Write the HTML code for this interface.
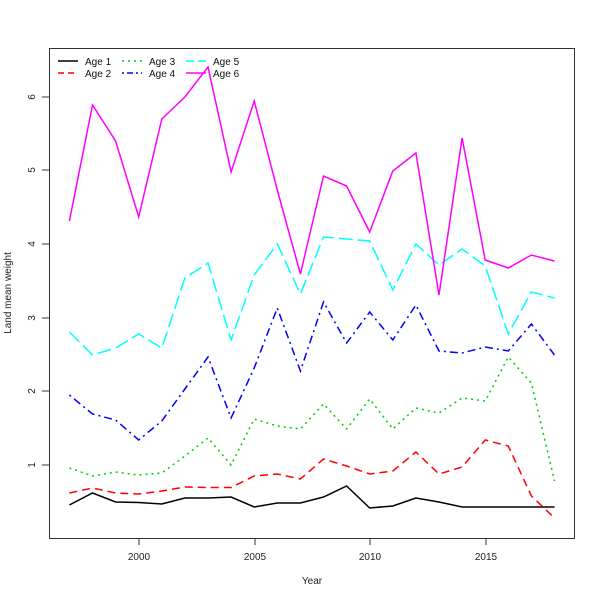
<!DOCTYPE html><html><head><style>body{margin:0;background:#fff}svg{display:block}</style></head><body>
<svg width="600" height="600" xmlns="http://www.w3.org/2000/svg" font-family="Liberation Sans, DejaVu Sans, sans-serif" font-size="10">
<rect x="0" y="0" width="600" height="600" fill="#fff"/>
<rect x="49.5" y="48.5" width="525" height="490" fill="none" stroke="#333" stroke-width="1"/>
<g stroke="#333" fill="none">
<line x1="139" y1="538" x2="139" y2="545"/><line x1="255" y1="538" x2="255" y2="545"/><line x1="370" y1="538" x2="370" y2="545"/><line x1="486" y1="538" x2="486" y2="545"/>
<line x1="42" y1="465" x2="49" y2="465"/><line x1="42" y1="391" x2="49" y2="391"/><line x1="42" y1="318" x2="49" y2="318"/><line x1="42" y1="244" x2="49" y2="244"/><line x1="42" y1="170" x2="49" y2="170"/><line x1="42" y1="97" x2="49" y2="97"/>
</g>
<g text-anchor="middle" fill="#222">
<text x="139" y="560">2000</text><text x="255" y="560">2005</text><text x="370" y="560">2010</text><text x="486" y="560">2015</text>
<text x="312" y="584">Year</text>
<text transform="translate(35,465) rotate(-90)">1</text><text transform="translate(35,391) rotate(-90)">2</text><text transform="translate(35,318) rotate(-90)">3</text><text transform="translate(35,244) rotate(-90)">4</text><text transform="translate(35,170) rotate(-90)">5</text><text transform="translate(35,97) rotate(-90)">6</text>
<text transform="translate(11,293) rotate(-90)">Land mean weight</text>
</g>
<g fill="none" stroke-width="1.5">
<polyline stroke="#000" points="69.4,505 92.5,493 115.6,502 138.7,502.5 161.8,504 184.9,498 208,498 231.1,497 254.2,507 277.3,503 300.4,503 323.5,497 346.6,486 369.7,508 392.8,506 415.9,498 439,502 462.1,507 485.2,507 508.3,507 531.4,507 554.5,507"/>
<polyline stroke="#f00" stroke-dasharray="8,5" points="69.4,493 92.5,488 115.6,493 138.7,494 161.8,491 184.9,487 208,487.5 231.1,487.5 254.2,476 277.3,474 300.4,479 323.5,459 346.6,466 369.7,474 392.8,471 415.9,452 439,474 462.1,467 485.2,440 508.3,446 531.4,496 554.5,518"/>
<polyline stroke="#0c0" stroke-dasharray="2,4" points="69.4,468 92.5,476 115.6,472 138.7,475 161.8,473 184.9,456 208,438 231.1,465 254.2,419 277.3,426 300.4,429 323.5,404 346.6,429 369.7,399 392.8,429 415.9,408 439,413 462.1,398 485.2,401 508.3,357 531.4,383 554.5,481"/>
<polyline stroke="#00f" stroke-dasharray="2,4,8,4" points="69.4,395 92.5,414 115.6,420 138.7,440 161.8,421 184.9,389 208,357 231.1,418 254.2,368 277.3,308 300.4,371 323.5,302 346.6,343 369.7,312 392.8,340 415.9,305 439,351 462.1,353 485.2,347 508.3,351 531.4,324 554.5,355"/>
<polyline stroke="#0ff" stroke-dasharray="14,5" points="69.4,332 92.5,355 115.6,348 138.7,334 161.8,348 184.9,278 208,263 231.1,340 254.2,275 277.3,244 300.4,294 323.5,237 346.6,239 369.7,241 392.8,290 415.9,244 439,265 462.1,249 485.2,266 508.3,334 531.4,292 554.5,298"/>
<polyline stroke="#f0f" points="69.4,221 92.5,105 115.6,141 138.7,217 161.8,119 184.9,97 208,67 231.1,172 254.2,101 277.3,190 300.4,274 323.5,176 346.6,186 369.7,232 392.8,171 415.9,153 439,295 462.1,138 485.2,260 508.3,268 531.4,255 554.5,261"/>
</g>
<g stroke-width="1.5">
<line x1="58" y1="61" x2="78" y2="61" stroke="#000"/>
<line x1="58" y1="73" x2="78" y2="73" stroke="#f00" stroke-dasharray="6,4"/>
<line x1="122" y1="61" x2="142" y2="61" stroke="#0c0" stroke-dasharray="2,4"/>
<line x1="122" y1="73" x2="142" y2="73" stroke="#00f" stroke-dasharray="2,3,6,3"/>
<line x1="186" y1="61" x2="206" y2="61" stroke="#0ff" stroke-dasharray="8,4"/>
<line x1="186" y1="73" x2="206" y2="73" stroke="#f0f"/>
</g>
<g fill="#111">
<text x="85" y="65">Age 1</text><text x="85" y="77">Age 2</text>
<text x="149" y="65">Age 3</text><text x="149" y="77">Age 4</text>
<text x="213" y="65">Age 5</text><text x="213" y="77">Age 6</text>
</g>
</svg>
</body></html>
